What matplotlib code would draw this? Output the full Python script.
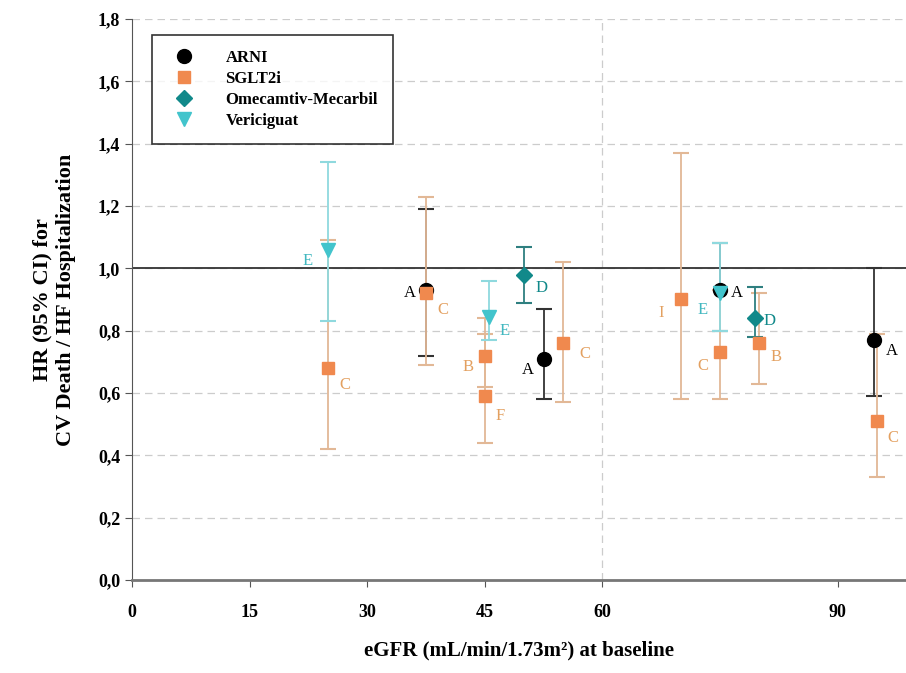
import matplotlib.pyplot as plt
from matplotlib.ticker import FuncFormatter

plt.rcParams['font.family'] = ['Liberation Serif', 'DejaVu Serif']
plt.rcParams['font.weight'] = 'bold'

# ARNI
arni_x = [37.5, 52.6, 75.0, 94.7]
arni_hr = [0.93, 0.71, 0.93, 0.77]
arni_lo = [0.72, 0.58, 0.80, 0.59]
arni_hi = [1.19, 0.87, 1.08, 1.00]
arni_lab = ["A", "A", "A", "A"]

# SGLT2i
sglt_x = [25.0, 37.5, 45.0, 45.0, 55.0, 70.0, 75.0, 80.0, 95.0]
sglt_hr = [0.68, 0.92, 0.72, 0.59, 0.76, 0.90, 0.73, 0.76, 0.51]
sglt_lo = [0.42, 0.69, 0.62, 0.44, 0.57, 0.58, 0.58, 0.63, 0.33]
sglt_hi = [1.09, 1.23, 0.84, 0.79, 1.02, 1.37, 0.93, 0.92, 0.79]
sglt_lab = ["C", "C", "B", "F", "C", "I", "C", "B", "C"]

# Omecamtiv-Mecarbil
ome_x = [50.0, 79.5]
ome_hr = [0.98, 0.84]
ome_lo = [0.89, 0.78]
ome_hi = [1.07, 0.94]
ome_lab = ["D", "D"]

# Vericiguat
ver_x = [25.0, 45.5, 75.0]
ver_hr = [1.06, 0.845, 0.92]
ver_lo = [0.83, 0.77, 0.80]
ver_hi = [1.34, 0.96, 1.08]
ver_lab = ["E", "E", "E"]

x_ticks = [0, 15, 30, 45, 60, 90]

# letter offsets (points)
arni_off = [(-16, -2), (-16, -8), (8, -2), (8, -8)]
sglt_off = [(8, -12), (8, -12), (-16, -8), (8, -14), (12, -8), (-16, -10), (-16, -10), (8, -10), (8, -12)]
ome_off = [(8, -10), (6, -2)]
ver_off = [(-18, -8), (8, -10), (-16, -12)]

fig = plt.figure(figsize=(9.06, 6.73), dpi=100)
ax = fig.add_axes([0.1457, 0.1382, 0.854, 0.8336])
ax.set_axisbelow(True)

series = [
    ("ARNI", arni_x, arni_hr, arni_lo, arni_hi, arni_lab, arni_off, "o", "black", "#333333", "black", 10),
    ("SGLT2i", sglt_x, sglt_hr, sglt_lo, sglt_hi, sglt_lab, sglt_off, "s", "#f0894e", "#e2b896", "#e3a060", 8.5),
    ("Omecamtiv-Mecarbil", ome_x, ome_hr, ome_lo, ome_hi, ome_lab, ome_off, "D", "#11898a", "#2e7f80", "#11898a", 8),
    ("Vericiguat", ver_x, ver_hr, ver_lo, ver_hi, ver_lab, ver_off, "v", "#42c4cc", "#8fd9de", "#42b8c0", 10),
]

for name, xs, hr, lo, hi, labs, offs, mk, col, ecol, tcol, ms in series:
    yerr = [[h - l for h, l in zip(hr, lo)], [u - h for h, u in zip(hr, hi)]]
    ax.errorbar(xs, hr, yerr=yerr, fmt="none", ecolor=ecol, elinewidth=1.3,
                capsize=6, capthick=1.5, zorder=2)
    ax.plot(xs, hr, linestyle="none", marker=mk, color=col, markersize=ms,
            label=name, zorder=3)
    for x, y, t, o in zip(xs, hr, labs, offs):
        ax.annotate(t, (x, y), xytext=o, textcoords="offset points",
                    fontsize=12, fontweight="normal", color=tcol,
                    ha="left", va="center")

ax.axhline(1.0, color="#333333", linewidth=1.3, zorder=1)

ax.set_xlim(0, 98.7)
ax.set_ylim(0, 1.8)
ax.set_xticks(x_ticks)
ax.set_yticks([i * 0.2 for i in range(10)])
ax.yaxis.set_major_formatter(FuncFormatter(lambda v, p: f"{v:.1f}".replace(".", ",")))

ax.grid(axis="y", linestyle=(0, (6, 4)), color="#cccccc", linewidth=0.9)
ax.axvline(60, linestyle=(0, (6, 4)), color="#cccccc", linewidth=0.9, zorder=0)

for s in ["top", "right"]:
    ax.spines[s].set_visible(False)
ax.spines["left"].set_color("#555555")
ax.spines["bottom"].set_color("#777777")
ax.spines["bottom"].set_linewidth(2)

ax.tick_params(axis="both", labelsize=13, color="#555555", length=5)
for lbl in ax.get_xticklabels() + ax.get_yticklabels():
    lbl.set_fontweight("bold")
ax.tick_params(axis="x", pad=12)

ax.set_xlabel("eGFR (mL/min/1.73m²) at baseline", fontsize=15,
              fontweight="bold", labelpad=14)
ax.set_ylabel("HR (95% CI) for\nCV Death / HF Hospitalization", fontsize=16,
              fontweight="bold", labelpad=16)

leg = ax.legend(loc="upper left", bbox_to_anchor=(0.026, 0.9715), frameon=True,
                fancybox=False, edgecolor="black", fontsize=12, borderpad=0.9,
                handletextpad=1.5, labelspacing=0.3, borderaxespad=0)
leg.get_frame().set_linewidth(1.2)
for t in leg.get_texts():
    t.set_fontweight("bold")

fig.savefig("out.png", dpi=100)
